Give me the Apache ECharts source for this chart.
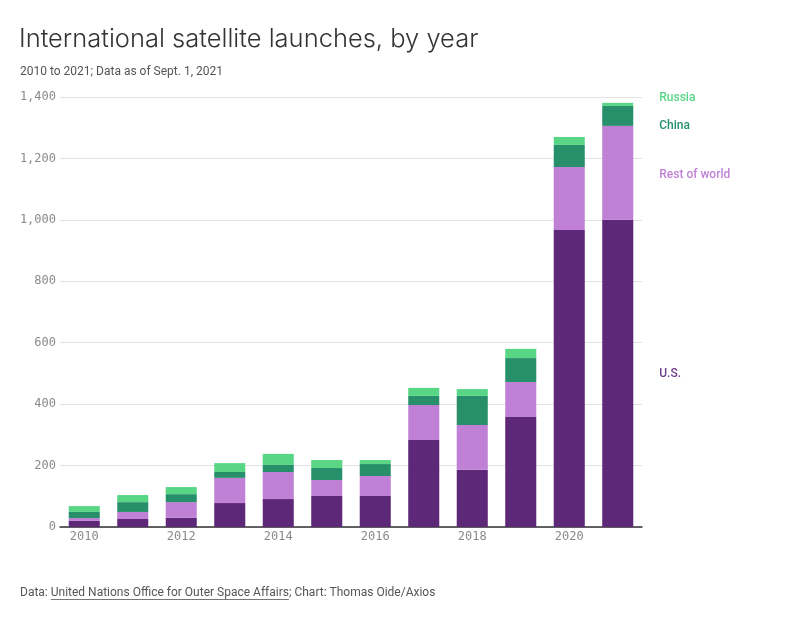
<!DOCTYPE html>
<html>
<head>
<meta charset="utf-8">
<script src="https://cdn.jsdelivr.net/npm/echarts@6/dist/echarts.min.js"></script>
<style>
html,body{margin:0;padding:0;background:#fff;}
#chart{width:786px;height:622px;}
</style>
</head>
<body>
<div id="chart"></div>
<script>
var years = ['2010','2011','2012','2013','2014','2015','2016','2017','2018','2019','2020','2021'];
var usValues     = [20, 26, 30, 78, 91, 101, 101, 283, 186, 358, 967, 1000];
var restValues   = [9, 23, 51, 82, 88, 52, 65, 114, 146, 114, 205, 306];
var chinaValues  = [20, 32, 26, 19, 23, 39, 39, 30, 95, 78, 72, 65];
var russiaValues = [19, 23, 23, 29, 36, 26, 13, 26, 22, 30, 26, 10];
var yTicks = [0, 200, 400, 600, 800, 1000, 1200, 1400];

var titleFont = 'Inter, Roboto, "Noto Sans", sans-serif';
var sansFont = 'Roboto, Inter, "Noto Sans", sans-serif';
var monoFont = '"DejaVu Sans Mono", "Liberation Mono", monospace';

function lastLabelData(values, name, color, offset) {
  return values.map(function (v, i) {
    if (i === values.length - 1) {
      return {
        value: v,
        label: {
          show: true, position: 'right', distance: 26, offset: offset,
          formatter: name, color: color, fontFamily: sansFont,
          fontSize: 12, fontWeight: 500
        }
      };
    }
    return v;
  });
}

var seriesDefs = [
  { name: 'U.S.', data: usValues, color: '#5d2877', labelColor: '#6f3f8b', offset: [0, 1] },
  { name: 'Rest of world', data: restValues, color: '#bf80d5', labelColor: '#bf80d5', offset: [0, 2] },
  { name: 'China', data: chinaValues, color: '#27906a', labelColor: '#27906a', offset: [0, 10] },
  { name: 'Russia', data: russiaValues, color: '#58d585', labelColor: '#58d585', offset: [0, -6] }
];

var footerPre = 'Data: ';
var footerLink = 'United Nations Office for Outer Space Affairs';
var footerPost = '; Chart: Thomas Oide/Axios';

var cv = document.createElement('canvas').getContext('2d');
cv.font = '12px ' + sansFont;
var wPre = cv.measureText(footerPre).width;
var wLink = cv.measureText(footerLink).width;

var chart = echarts.init(document.getElementById('chart'), null, { renderer: 'canvas' });
chart.setOption({
  animation: false,
  title: [
    { text: 'International satellite launches, by year', left: 19, top: 26, padding: 0,
      textStyle: { fontFamily: titleFont, fontSize: 25.5, fontWeight: 300, color: '#333' } },
    { text: '2010 to 2021; Data as of Sept. 1, 2021', left: 20, top: 66, padding: 0,
      textStyle: { fontFamily: sansFont, fontSize: 12, fontWeight: 400, color: '#555' } }
  ],
  grid: { left: 60, right: 144, top: 97, bottom: 95, containLabel: false },
  xAxis: {
    type: 'category', data: years,
    axisLine: { show: true, lineStyle: { color: '#333', width: 1.5 } },
    axisTick: { show: false },
    axisLabel: { interval: 1, margin: 4, color: '#8a8a8a', fontFamily: monoFont, fontSize: 12 }
  },
  yAxis: {
    type: 'value', min: yTicks[0], max: yTicks[yTicks.length - 1], interval: 200,
    axisLine: { show: false }, axisTick: { show: false },
    splitLine: { lineStyle: { color: '#e3e3e3', width: 1 } },
    axisLabel: {
      margin: 4, color: '#8a8a8a', fontFamily: monoFont, fontSize: 12,
      formatter: function (v) { return v.toLocaleString('en-US'); }
    }
  },
  series: seriesDefs.map(function (s) {
    return {
      name: s.name, type: 'bar', stack: 'total', barWidth: '64%',
      itemStyle: { color: s.color },
      data: lastLabelData(s.data, s.name, s.labelColor, s.offset)
    };
  }),
  graphic: [
    { type: 'text', left: 20, top: 587,
      style: { text: footerPre + footerLink + footerPost, font: '12px ' + sansFont, fill: '#555' } },
    { type: 'line', shape: { x1: 20 + wPre, y1: 599.5, x2: 20 + wPre + wLink, y2: 599.5 },
      style: { stroke: '#777', lineWidth: 1 } }
  ]
});
</script>
</body>
</html>
